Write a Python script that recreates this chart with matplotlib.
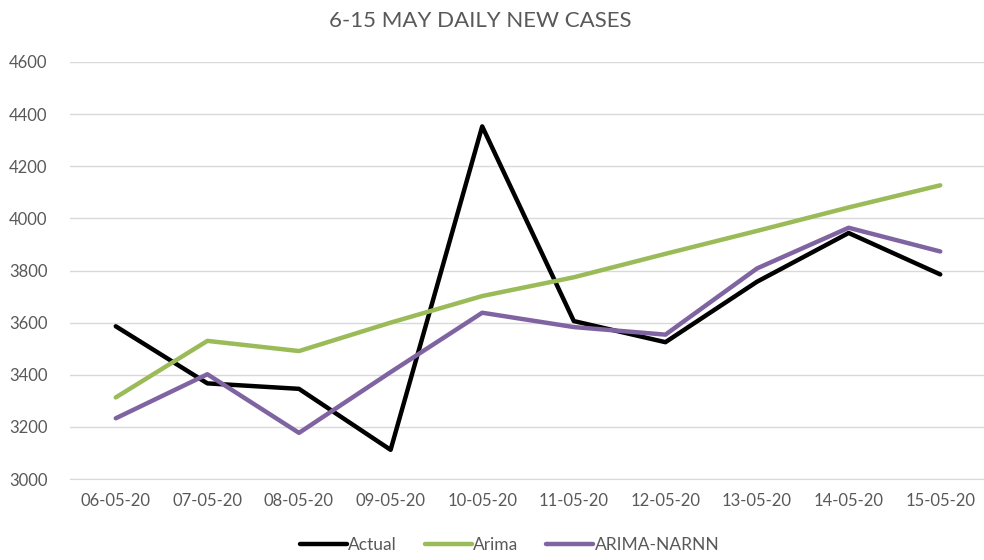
import matplotlib
matplotlib.use("Agg")
import matplotlib.pyplot as plt

plt.rcParams['font.family'] = ['Lato', 'DejaVu Sans']

# Data
dates = ["06-05-20", "07-05-20", "08-05-20", "09-05-20", "10-05-20",
         "11-05-20", "12-05-20", "13-05-20", "14-05-20", "15-05-20"]
actual = [3586, 3367, 3346, 3112, 4353, 3606, 3525, 3757, 3944, 3785]
arima = [3313, 3530, 3491, 3600, 3702, 3774, 3864, 3952, 4042, 4127]
arima_narnn = [3233, 3402, 3177, 3410, 3638, 3583, 3554, 3808, 3964, 3873]

grey = "#595959"

fig = plt.figure(figsize=(9.84, 5.6), dpi=100)
ax = fig.add_axes([0.0711, 0.1446, 0.931, 0.7447])

x = range(len(dates))
ax.plot(x, actual, color="black", lw=3.2, label="Actual", solid_capstyle="round")
ax.plot(x, arima, color="#9BBB59", lw=3.2, label="Arima", solid_capstyle="round")
ax.plot(x, arima_narnn, color="#8064A2", lw=3.2, label="ARIMA-NARNN", solid_capstyle="round")

ax.set_xlim(-0.5, len(dates) - 0.5)
ax.set_ylim(3000, 4600)
ax.set_yticks(range(3000, 4601, 200))
ax.set_xticks(list(x))
ax.set_xticklabels(dates)
ax.yaxis.grid(True, color="#D9D9D9", lw=1)
ax.set_axisbelow(True)
for s in ["top", "right", "left"]:
    ax.spines[s].set_visible(False)
ax.spines["bottom"].set_color("#D9D9D9")
ax.tick_params(axis="both", length=0, colors=grey, labelsize=12)
ax.tick_params(axis="x", pad=10)
ax.tick_params(axis="y", pad=16)

fig.suptitle("6-15 MAY DAILY NEW CASES", x=0.488, y=0.98, fontsize=16, color=grey)
fig.legend(loc="lower center", bbox_to_anchor=(0.518, -0.015), ncol=3, frameon=False,
           fontsize=12.5, labelcolor=grey, handlelength=2.7, handletextpad=0.1,
           columnspacing=1.6)

fig.savefig("out.png", dpi=100)
